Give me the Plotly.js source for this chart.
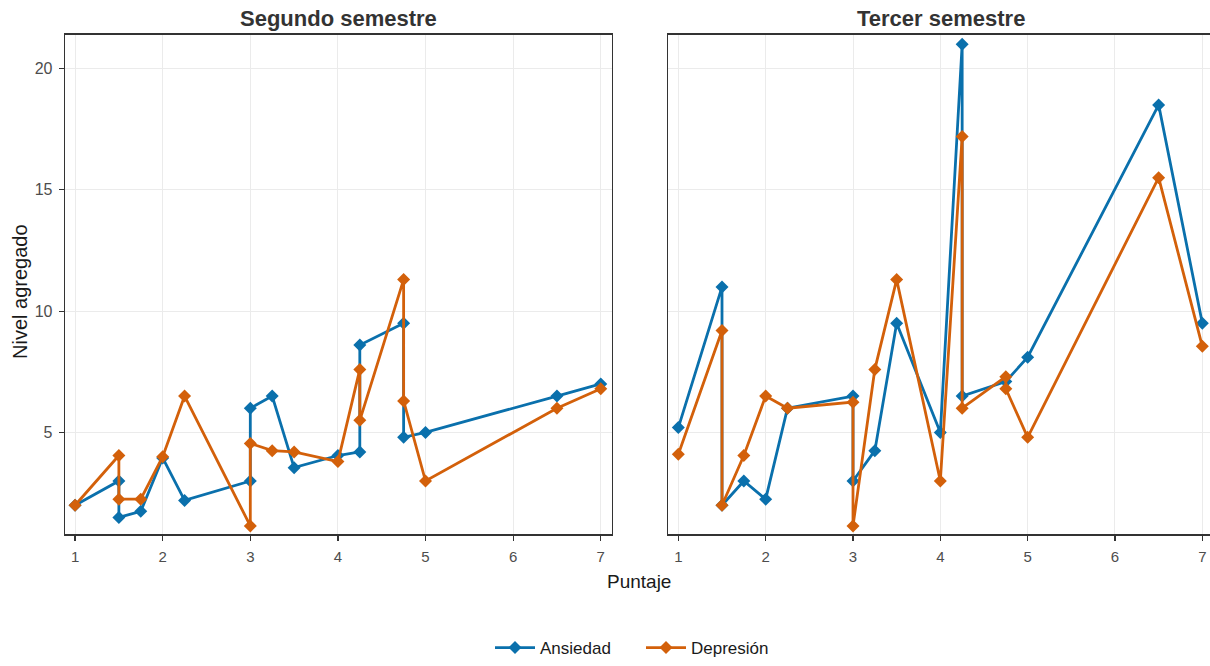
<!DOCTYPE html>
<html>
<head>
<meta charset="utf-8">
<script src="https://cdn.plot.ly/plotly-3.0.1.min.js"></script>
<style>html,body{margin:0;padding:0;background:#fff;overflow:hidden;}#chart{width:1210px;height:666px;}</style>
</head>
<body>
<div id="chart"></div>
<script>
// ---- Data ----
const panels = ["Segundo semestre", "Tercer semestre"];
const series = ["Ansiedad", "Depresión"];

const segundo_puntaje_ansiedad = [1, 1.5, 1.5, 1.75, 2, 2.25, 3, 3, 3.25, 3.5, 4, 4.25, 4.25, 4.75, 4.75, 5, 6.5, 7];
const segundo_ansiedad        = [2, 3, 1.5, 1.75, 3.95, 2.2, 3, 6, 6.5, 3.55, 4.05, 4.2, 8.6, 9.5, 4.8, 5, 6.5, 7];

const segundo_puntaje_depresion = [1, 1.5, 1.5, 1.75, 2, 2.25, 3, 3, 3.25, 3.5, 4, 4.25, 4.25, 4.75, 4.75, 5, 6.5, 7];
const segundo_depresion         = [2, 4.05, 2.25, 2.25, 4, 6.5, 1.15, 4.55, 4.25, 4.2, 3.8, 7.6, 5.5, 11.3, 6.3, 3, 6, 6.8];

const tercer_puntaje_ansiedad = [1, 1.5, 1.5, 1.75, 2, 2.25, 3, 3, 3.25, 3.5, 4, 4.25, 4.25, 4.75, 5, 6.5, 7];
const tercer_ansiedad         = [5.2, 11, 2, 3, 2.25, 6, 6.5, 3, 4.25, 9.5, 5, 21, 6.5, 7.1, 8.1, 18.5, 9.5];

const tercer_puntaje_depresion = [1, 1.5, 1.5, 1.75, 2, 2.25, 3, 3, 3.25, 3.5, 4, 4.25, 4.25, 4.75, 4.75, 5, 6.5, 7];
const tercer_depresion         = [4.1, 9.2, 2, 4.05, 6.5, 6, 6.25, 1.15, 7.6, 11.3, 3, 17.2, 6, 7.3, 6.8, 4.8, 15.5, 8.55];

const x_ticks = [1, 2, 3, 4, 5, 6, 7];
const y_ticks = [5, 10, 15, 20];

// ---- Styling ----
const colors = {"Ansiedad": "#0A70AC", "Depresión": "#D3600A"};
const W = 1210, H = 666;
const FONT = "Liberation Sans, Arial, sans-serif";

function mk(x, y, name, xa, ya, showlegend) {
  return {
    type: "scatter", mode: "lines+markers", x: x, y: y, name: name,
    xaxis: xa, yaxis: ya, showlegend: showlegend, legendgroup: name,
    line: {color: colors[name], width: 2.8},
    marker: {symbol: "diamond", size: 10, color: colors[name]},
    hoverinfo: "x+y+name"
  };
}

const traces = [
  mk(segundo_puntaje_ansiedad, segundo_ansiedad, series[0], "x", "y", true),
  mk(segundo_puntaje_depresion, segundo_depresion, series[1], "x", "y", true),
  mk(tercer_puntaje_ansiedad, tercer_ansiedad, series[0], "x2", "y2", false),
  mk(tercer_puntaje_depresion, tercer_depresion, series[1], "x2", "y2", false)
];

const L1 = 65, R1 = 611.7, L2 = 668.3, R2 = 1210;
const T = 35, B = 541.7;

const xbase = {
  tickmode: "array", tickvals: x_ticks, ticks: "outside", ticklen: 5, tickwidth: 1.2,
  tickcolor: "#333333", showline: true, mirror: true, linecolor: "#333333", linewidth: 1.3,
  showgrid: true, gridcolor: "#EBEBEB", gridwidth: 1, zeroline: false, ticklabelstandoff: 3,
  tickfont: {family: FONT, size: 15, color: "#4D4D4D"}, fixedrange: true
};
const ybase = {
  tickmode: "array", tickvals: y_ticks, ticks: "outside", ticklen: 5, tickwidth: 1.2,
  tickcolor: "#333333", showline: true, mirror: true, linecolor: "#333333", linewidth: 1.3,
  showgrid: true, gridcolor: "#EBEBEB", gridwidth: 1, zeroline: false, ticklabelstandoff: 3,
  tickfont: {family: FONT, size: 16, color: "#4D4D4D"}, range: [0.8, 21.4], fixedrange: true
};

const layout = {
  width: W, height: H,
  margin: {l: 0, r: 0, t: 0, b: 0},
  paper_bgcolor: "#ffffff", plot_bgcolor: "#ffffff",
  font: {family: FONT},
  xaxis: Object.assign({}, xbase, {domain: [L1 / W, R1 / W], range: [0.885, 7.125], anchor: "y"}),
  xaxis2: Object.assign({}, xbase, {domain: [L2 / W, R2 / W], range: [0.885, 7.088], anchor: "y2"}),
  yaxis: Object.assign({}, ybase, {domain: [1 - B / H, 1 - T / H], anchor: "x"}),
  yaxis2: Object.assign({}, ybase, {domain: [1 - B / H, 1 - T / H], anchor: "x2", showticklabels: false, ticks: ""}),
  showlegend: true,
  legend: {
    orientation: "h", x: 641 / W, xanchor: "center", y: 1 - 657 / H, yanchor: "middle",
    font: {family: FONT, size: 17, color: "#1a1a1a"}, bgcolor: "rgba(0,0,0,0)",
    itemwidth: 40, entrywidth: 96, entrywidthmode: "pixels"
  },
  annotations: [
    {text: "<b>" + panels[0] + "</b>", xref: "paper", yref: "paper", x: (L1 + R1) / 2 / W, y: 1 - 19 / H,
     xanchor: "center", yanchor: "middle", showarrow: false, font: {family: FONT, size: 22, color: "#333333"}},
    {text: "<b>" + panels[1] + "</b>", xref: "paper", yref: "paper", x: (L2 + 1213) / 2 / W, y: 1 - 19 / H,
     xanchor: "center", yanchor: "middle", showarrow: false, font: {family: FONT, size: 22, color: "#333333"}},
    {text: "Puntaje", xref: "paper", yref: "paper", x: 639 / W, y: 1 - 589 / H,
     xanchor: "center", yanchor: "middle", showarrow: false, font: {family: FONT, size: 19, color: "#1a1a1a"}},
    {text: "Nivel agregado", xref: "paper", yref: "paper", x: 20 / W, y: 1 - 296 / H, textangle: -90,
     xanchor: "center", yanchor: "middle", showarrow: false, font: {family: FONT, size: 20, color: "#1a1a1a"}}
  ]
};

Plotly.newPlot("chart", traces, layout, {displayModeBar: false, staticPlot: true});
</script>
</body>
</html>
